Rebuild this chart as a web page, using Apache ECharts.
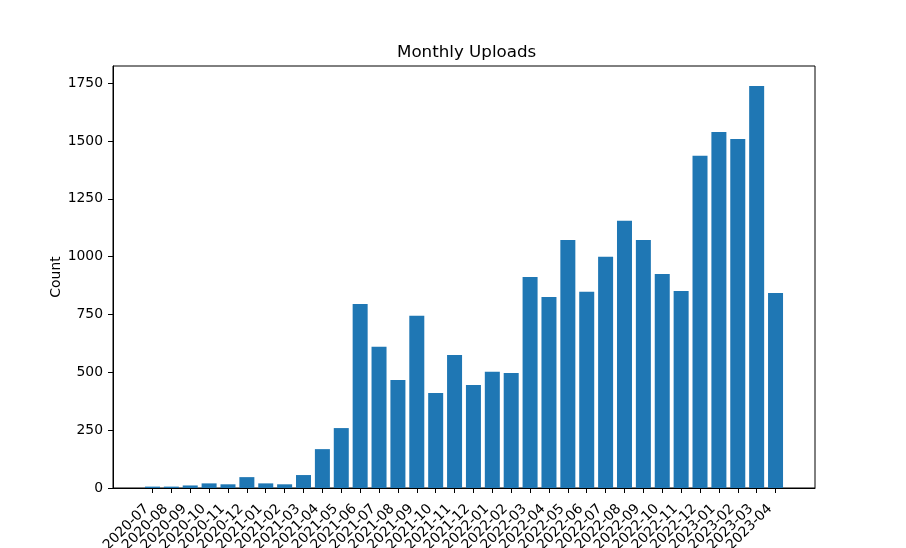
<!DOCTYPE html>
<html>
<head>
<meta charset="utf-8">
<script src="https://cdn.jsdelivr.net/npm/echarts@6/dist/echarts.min.js"></script>
<style>
  html, body { margin: 0; padding: 0; background: #fff; }
  #chart { width: 906px; height: 548px; }
</style>
</head>
<body>
<div id="chart"></div>
<script>
const months = [
  '2020-07', '2020-08', '2020-09', '2020-10', '2020-11', '2020-12',
  '2021-01', '2021-02', '2021-03', '2021-04', '2021-05', '2021-06',
  '2021-07', '2021-08', '2021-09', '2021-10', '2021-11', '2021-12',
  '2022-01', '2022-02', '2022-03', '2022-04', '2022-05', '2022-06',
  '2022-07', '2022-08', '2022-09', '2022-10', '2022-11', '2022-12',
  '2023-01', '2023-02', '2023-03', '2023-04'
];
const uploads = [
  6, 6, 11, 20, 16, 47,
  20, 16, 56, 168, 259, 795,
  610, 467, 744, 411, 575, 445,
  502, 497, 912, 826, 1072, 848,
  999, 1155, 1072, 925, 852, 1436,
  1539, 1509, 1738, 843
];
const yTicks = [0, 250, 500, 750, 1000, 1250, 1500, 1750];

const font = 'DejaVu Sans';
const idx = months.map((m, i) => i);
// dummy end positions so the real first/last labels are not dropped
const labelPos = [-2].concat(idx, [35]);

const chart = echarts.init(document.getElementById('chart'), null, { renderer: 'canvas' });

chart.setOption({
  animation: false,
  backgroundColor: '#fff',
  title: {
    text: 'Monthly Uploads',
    left: 392,
    top: 39,
    textStyle: { fontFamily: font, fontSize: 16.7, fontWeight: 'normal', color: '#000' }
  },
  grid: {
    left: 113, right: 91, top: 66, bottom: 60,
    outerBoundsMode: 'none',
    show: true, borderColor: '#000', borderWidth: 1, backgroundColor: 'transparent'
  },
  xAxis: {
    type: 'value',
    min: -2.09,
    max: 35.09,
    splitLine: { show: false },
    axisLine: { show: true, onZero: false, lineStyle: { color: '#000', width: 1 } },
    axisTick: { show: true, length: 5, lineStyle: { color: '#000' }, customValues: idx },
    axisLabel: {
      customValues: labelPos,
      showMinLabel: false,
      showMaxLabel: false,
      hideOverlap: false,
      rotate: 45,
      margin: 13,
      padding: [0, 8, 0, 0],
      lineHeight: 12,
      fontFamily: font,
      fontSize: 13.9,
      color: '#000',
      formatter: v => months[Math.round(v)] || ''
    }
  },
  yAxis: {
    type: 'value',
    min: 0,
    max: 1824,
    name: 'Count',
    nameLocation: 'middle',
    nameGap: 50,
    nameMoveOverlap: false,
    nameTextStyle: { fontFamily: font, fontSize: 13.9, color: '#000' },
    splitLine: { show: false },
    axisLine: { show: true, onZero: false, lineStyle: { color: '#000', width: 1 } },
    axisTick: { show: true, length: 5, lineStyle: { color: '#000' }, customValues: yTicks },
    axisLabel: {
      customValues: yTicks,
      margin: 10,
      fontFamily: font,
      fontSize: 13.9,
      color: '#000',
      formatter: v => String(v)
    }
  },
  series: [{
    type: 'bar',
    data: uploads.map((v, i) => [i, v]),
    barWidth: 15,
    itemStyle: { color: '#1f77b4' }
  }]
});
</script>
</body>
</html>
